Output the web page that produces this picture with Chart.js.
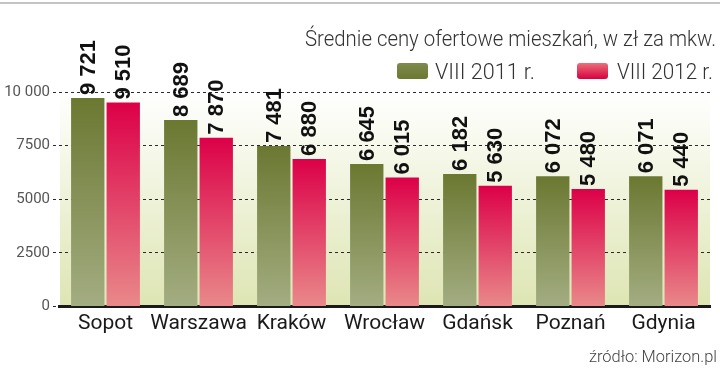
<!DOCTYPE html>
<html>
<head>
<meta charset="utf-8">
<script src="https://cdn.jsdelivr.net/npm/chart.js@4.4.1/dist/chart.umd.min.js"></script>
<style>
  html, body { margin: 0; padding: 0; background: #ffffff; }
  #wrap { width: 720px; height: 373px; position: relative; }
</style>
</head>
<body>
<div id="wrap"><canvas id="c" width="720" height="373"></canvas></div>
<script>
const categories = ['Sopot', 'Warszawa', 'Kraków', 'Wrocław', 'Gdańsk', 'Poznań', 'Gdynia'];
const series2011 = [9721, 8689, 7481, 6645, 6182, 6072, 6071];
const series2012 = [9510, 7870, 6880, 6015, 5630, 5480, 5440];
const seriesLabels = ['VIII 2011 r.', 'VIII 2012 r.'];
const yTickValues = [0, 2500, 5000, 7500, 10000];
const yTickLabels = ['0', '2500', '5000', '7500', '10 000'];
const titleText = 'Średnie ceny ofertowe mieszkań, w zł za mkw.';
const sourceText = 'źródło: Morizon.pl';

const GREEN_TOP = '#6b7831', GREEN_BOT = '#a3ad82';
const RED_TOP = '#dc0048', RED_BOT = '#e9898a';

function barGradient(top, bottom) {
  return function (ctx) {
    const chart = ctx.chart;
    const area = chart.chartArea;
    if (!area || ctx.type !== 'data') return top;
    const y0 = chart.scales.y.getPixelForValue(ctx.raw);
    const g = chart.ctx.createLinearGradient(0, y0, 0, area.bottom);
    g.addColorStop(0, top);
    g.addColorStop(1, bottom);
    return g;
  };
}

function fmt(v) {
  return String(v).replace(/\B(?=(\d{3})+(?!\d))/g, ' ');
}

const decor = {
  id: 'decor',
  beforeDraw(chart) {
    const c = chart.ctx, a = chart.chartArea;
    c.save();
    c.strokeStyle = '#c4c4c4';
    c.lineWidth = 2;
    c.beginPath(); c.moveTo(0, 3); c.lineTo(720, 3); c.stroke();
    const g = c.createLinearGradient(0, a.top, 0, a.bottom);
    g.addColorStop(0, '#ffffff');
    g.addColorStop(1, '#dee5b3');
    c.fillStyle = g;
    c.fillRect(a.left + 1, a.top, a.right - a.left - 1, a.bottom - a.top);
    c.restore();
  },
  afterDatasetsDraw(chart) {
    const c = chart.ctx;
    c.save();
    c.fillStyle = '#111111';
    c.font = 'bold 22px "Liberation Sans", Arial, sans-serif';
    c.textAlign = 'left';
    c.textBaseline = 'middle';
    chart.data.datasets.forEach((ds, di) => {
      const meta = chart.getDatasetMeta(di);
      meta.data.forEach((bar, i) => {
        c.save();
        c.translate(bar.x + 1, bar.y - 3);
        c.rotate(-Math.PI / 2);
        c.fillText(fmt(ds.data[i]), 0, 0);
        c.restore();
      });
    });
    c.fillStyle = '#333333';
    c.textAlign = 'right';
    c.textBaseline = 'alphabetic';
    c.font = '300 22px Roboto, "Liberation Sans", sans-serif';
    c.fillText(titleText, 716, 46, 411);
    const items = [
      { box: 397, text: 435, w: 100 },
      { box: 577, text: 617, w: 96 }
    ];
    chart.data.datasets.forEach((ds, di) => {
      const it = items[di];
      const g = c.createLinearGradient(0, 63, 0, 79);
      if (di === 0) { g.addColorStop(0, '#7f8a4c'); g.addColorStop(1, '#6b7831'); }
      else { g.addColorStop(0, '#ea7078'); g.addColorStop(1, '#d80040'); }
      c.fillStyle = g;
      c.beginPath();
      if (c.roundRect) c.roundRect(it.box, 63, 31, 16, 3); else c.rect(it.box, 63, 31, 16);
      c.fill();
      c.fillStyle = '#333333';
      c.textAlign = 'left';
      c.font = '300 22px Roboto, "Liberation Sans", sans-serif';
      c.fillText(ds.label, it.text, 79, it.w);
    });
    c.textAlign = 'right';
    c.fillStyle = '#444444';
    c.font = '300 17px Roboto, "Liberation Sans", sans-serif';
    c.fillText(sourceText, 717, 362, 128);
    c.restore();
  }
};

new Chart(document.getElementById('c'), {
  type: 'bar',
  data: {
    labels: categories,
    datasets: [
      { label: seriesLabels[0], data: series2011, backgroundColor: barGradient(GREEN_TOP, GREEN_BOT), borderWidth: 0 },
      { label: seriesLabels[1], data: series2012, backgroundColor: barGradient(RED_TOP, RED_BOT), borderWidth: 0 }
    ]
  },
  options: {
    responsive: false,
    animation: false,
    layout: { padding: { top: 92, right: 10, bottom: 0, left: 0 } },
    datasets: { bar: { categoryPercentage: 0.763, barPercentage: 0.94 } },
    plugins: { legend: { display: false }, tooltip: { enabled: false }, title: { display: false } },
    scales: {
      x: {
        grid: { display: false, drawTicks: false },
        border: { display: true, color: '#1a1a1a', width: 3 },
        ticks: { color: '#1a1a1a', padding: 5, font: { family: 'Roboto, "Liberation Sans", sans-serif', size: 21 }, maxRotation: 0, autoSkip: false },
        afterFit(s) { s.height = 66.5; }
      },
      y: {
        min: 0, max: 10000,
        afterBuildTicks(s) { s.ticks = yTickValues.map(v => ({ value: v })); },
        grid: { color: '#2a2a2a', lineWidth: 1, tickLength: 6, tickColor: '#2a2a2a', tickBorderDash: [3, 3] },
        border: { display: false, dash: [3, 3] },
        ticks: {
          color: '#555555', padding: 3,
          font: { family: 'Roboto, "Liberation Sans", sans-serif', size: 15 },
          callback(v) { const i = yTickValues.indexOf(v); return i >= 0 ? yTickLabels[i] : ''; }
        },
        afterFit(s) { s.width = 59; }
      }
    }
  },
  plugins: [decor]
});
</script>
</body>
</html>
